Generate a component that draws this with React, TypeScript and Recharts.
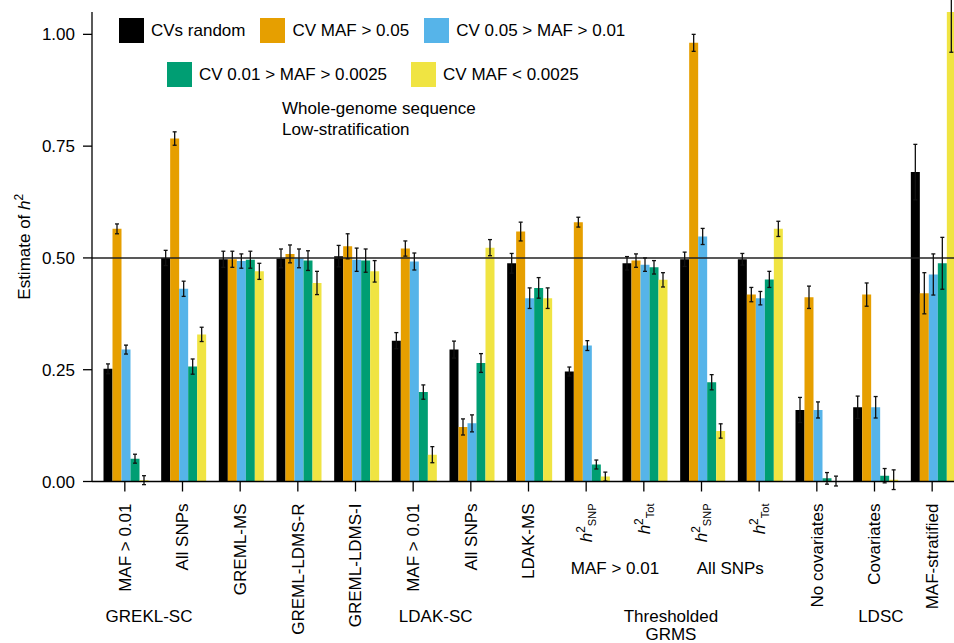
import React from 'react';
import { BarChart, Bar, XAxis, YAxis, ErrorBar, ReferenceLine, Legend, Label } from 'recharts';

// ---------- data ----------
const categories = [
  'MAF > 0.01', 'All SNPs', 'GREML-MS', 'GREML-LDMS-R', 'GREML-LDMS-I',
  'MAF > 0.01', 'All SNPs', 'LDAK-MS', 'h2_SNP', 'h2_Tot', 'h2_SNP', 'h2_Tot',
  'No covariates', 'Covariates', 'MAF-stratified',
];

const seriesNames = ['CVs random', 'CV MAF > 0.05', 'CV 0.05 > MAF > 0.01', 'CV 0.01 > MAF > 0.0025', 'CV MAF < 0.0025'];
const seriesColors = ['#000000', '#E69F00', '#56B4E9', '#009E73', '#F0E442'];

const cvsRandom = [0.252, 0.500, 0.497, 0.499, 0.504, 0.315, 0.295, 0.488, 0.246, 0.488, 0.497, 0.497, 0.160, 0.166, 0.692];
const cvsRandomErr = [0.011, 0.017, 0.018, 0.021, 0.024, 0.018, 0.019, 0.022, 0.010, 0.015, 0.016, 0.013, 0.028, 0.025, 0.062];

const cvMafGt005 = [0.565, 0.767, 0.497, 0.509, 0.526, 0.521, 0.122, 0.559, 0.580, 0.494, 0.981, 0.418, 0.412, 0.418, 0.421];
const cvMafGt005Err = [0.011, 0.015, 0.018, 0.020, 0.028, 0.017, 0.018, 0.021, 0.011, 0.015, 0.019, 0.016, 0.025, 0.026, 0.046];

const cv005to001 = [0.295, 0.431, 0.493, 0.499, 0.496, 0.492, 0.130, 0.410, 0.304, 0.485, 0.548, 0.410, 0.160, 0.166, 0.463];
const cv005to001Err = [0.010, 0.017, 0.016, 0.021, 0.026, 0.019, 0.019, 0.023, 0.011, 0.015, 0.018, 0.015, 0.018, 0.024, 0.046];

const cv001to00025 = [0.051, 0.257, 0.496, 0.494, 0.494, 0.200, 0.265, 0.433, 0.038, 0.479, 0.222, 0.452, 0.007, 0.013, 0.488];
const cv001to00025Err = [0.010, 0.017, 0.019, 0.022, 0.026, 0.016, 0.021, 0.023, 0.010, 0.015, 0.017, 0.018, 0.013, 0.016, 0.058];

const cvMafLt00025 = [0.003, 0.329, 0.470, 0.444, 0.470, 0.060, 0.523, 0.410, 0.011, 0.451, 0.113, 0.565, 0.001, 0.004, 1.06];
const cvMafLt00025Err = [0.010, 0.016, 0.018, 0.026, 0.024, 0.018, 0.018, 0.023, 0.010, 0.016, 0.016, 0.017, 0.011, 0.022, 0.10];

const yTicks = [0, 0.25, 0.5, 0.75, 1.0];

const subGroupLabels = [
  { text: 'MAF > 0.01', at: 8.5 },
  { text: 'All SNPs', at: 10.5 },
];
const groupLabels = [
  { text: 'GREKL-SC', at: 0.42, line: 0 },
  { text: 'LDAK-SC', at: 5.39, line: 0 },
  { text: 'Thresholded', at: 9.47, line: 0 },
  { text: 'GRMS', at: 9.47, line: 1 },
  { text: 'LDSC', at: 13.11, line: 0 },
];

const valueArrays = [cvsRandom, cvMafGt005, cv005to001, cv001to00025, cvMafLt00025];
const errArrays = [cvsRandomErr, cvMafGt005Err, cv005to001Err, cv001to00025Err, cvMafLt00025Err];

const data = categories.map((c, i) => {
  const row: any = { key: 'c' + i };
  valueArrays.forEach((arr, s) => {
    row['s' + s] = arr[i];
    row['e' + s] = errArrays[s][i];
  });
  return row;
});

// ---------- layout ----------
const CHART_W = 961;
const CHART_H = 643;
const Y_W = 92;
const PAD_L = 4;
const X_H = 161.5;
const BAND = (CHART_W - Y_W - PAD_L) / categories.length;
const FONT = '"Liberation Sans", Arial, Helvetica, sans-serif';
const FS = 17;

function XTick(props: any) {
  const { x, y, payload } = props;
  const idx = Number(String(payload?.value ?? 'c0').slice(1));
  const label = categories[idx];
  let content: any;
  if (label.startsWith('h2_')) {
    const sub = label.slice(3);
    content = (
      <text transform={`translate(${x},${y}) rotate(-90)`} textAnchor="end" fontSize={FS} fontFamily={FONT} fill="#000" dy="0.35em">
        <tspan fontStyle="italic">h</tspan>
        <tspan fontSize={12} dy={-7}>2</tspan>
        <tspan fontSize={11} dy={11}>{sub}</tspan>
      </text>
    );
  } else {
    content = (
      <text transform={`translate(${x},${y}) rotate(-90)`} textAnchor="end" fontSize={FS} fontFamily={FONT} fill="#000" dy="0.35em">
        {label}
      </text>
    );
  }
  const subs = subGroupLabels.filter((g) => Math.floor(g.at) === idx);
  const groups = groupLabels.filter((g) => Math.floor(g.at) === idx);
  return (
    <g>
      {content}
      {subs.map((g, k) => (
        <text key={'s' + k} x={x + (g.at - idx) * BAND} y={y + 70} textAnchor="middle" fontSize={FS} fontFamily={FONT} fill="#000">
          {g.text}
        </text>
      ))}
      {groups.map((g, k) => (
        <text key={'g' + k} x={x + (g.at - idx) * BAND} y={y + 118 + g.line * 18.5} textAnchor="middle" fontSize={FS} fontFamily={FONT} fill="#000">
          {g.text}
        </text>
      ))}
    </g>
  );
}

function YLabel(props: any) {
  const vb = props.viewBox || { x: 0, y: 12, width: Y_W, height: 469.5 };
  const cx = (vb.x || 0) + 29.5;
  const cy = vb.y + vb.height / 2;
  return (
    <text transform={`translate(${cx},${cy}) rotate(-90)`} textAnchor="middle" fontSize={FS} fontFamily={FONT} fill="#000">
      Estimate of <tspan fontStyle="italic">h</tspan>
      <tspan fontSize={12} dy={-7}>2</tspan>
    </text>
  );
}

function LegendContent(props: any) {
  let payload: any[] = (props.payload && props.payload.length === 5)
    ? [...props.payload]
    : seriesNames.map((n, i) => ({ value: n, color: seriesColors[i] }));
  payload.sort((a, b) => seriesNames.indexOf(a.value) - seriesNames.indexOf(b.value));
  const item = (p: any, k: number) => (
    <div key={k} style={{ display: 'flex', alignItems: 'center', height: 25 }}>
      <div style={{ width: 25, height: 25, background: p.color, marginRight: 7 }} />
      <span style={{ fontSize: FS, fontFamily: FONT, color: '#000', whiteSpace: 'nowrap' }}>{p.value}</span>
    </div>
  );
  return (
    <div style={{ position: 'relative', width: 700, height: 140 }}>
      <div style={{ position: 'absolute', left: 119, top: 18, display: 'flex', gap: 15 }}>
        {payload.slice(0, 3).map(item)}
      </div>
      <div style={{ position: 'absolute', left: 167, top: 62, display: 'flex', gap: 24 }}>
        {payload.slice(3, 5).map((p, k) => item(p, k + 3))}
      </div>
      <div style={{ position: 'absolute', left: 282, top: 97.6, fontSize: FS, fontFamily: FONT, lineHeight: '21px', color: '#000', whiteSpace: 'nowrap' }}>
        <div>Whole-genome sequence</div>
        <div>Low-stratification</div>
      </div>
    </div>
  );
}

export default function App() {
  return (
    <div style={{ position: 'absolute', left: 0, top: 0, width: 954, height: 643, overflow: 'hidden', background: '#fff' }}>
      <BarChart
        width={CHART_W}
        height={CHART_H}
        data={data}
        margin={{ top: 12, right: 0, bottom: 0, left: 0 }}
        barCategoryGap={7.5}
        barGap={0}
        style={{ fontFamily: FONT }}
      >
        <XAxis
          dataKey="key"
          type="category"
          height={X_H}
          padding={{ left: PAD_L, right: 0 }}
          interval={0}
          tickSize={10}
          tickMargin={12}
          axisLine={{ stroke: '#000', strokeWidth: 1.3 }}
          tickLine={{ stroke: '#000', strokeWidth: 1.3 }}
          tick={<XTick />}
        />
        <YAxis
          type="number"
          domain={[0, 1.05]}
          allowDataOverflow
          ticks={yTicks}
          width={Y_W}
          tickSize={9}
          tickMargin={8}
          tickFormatter={(v: number) => v.toFixed(2)}
          axisLine={{ stroke: '#000', strokeWidth: 1.3 }}
          tickLine={{ stroke: '#000', strokeWidth: 1.3 }}
          tick={{ fontSize: FS, fill: '#000', fontFamily: FONT }}
        >
          <Label content={<YLabel />} />
        </YAxis>
        <Legend
          layout="horizontal"
          verticalAlign="middle"
          align="center"
          itemSorter={null as any}
          content={<LegendContent />}
          wrapperStyle={{ position: 'absolute', left: 0, top: 0, width: 700, height: 140 }}
        />
        <ReferenceLine y={0.5} stroke="#222" strokeWidth={1.5} />
        {seriesNames.map((name, s) => (
          <Bar key={name} dataKey={'s' + s} name={name} fill={seriesColors[s]} isAnimationActive={false}>
            <ErrorBar dataKey={'e' + s} direction="y" width={2} stroke="#111" strokeWidth={1.3} isAnimationActive={false} />
          </Bar>
        ))}
      </BarChart>
    </div>
  );
}
